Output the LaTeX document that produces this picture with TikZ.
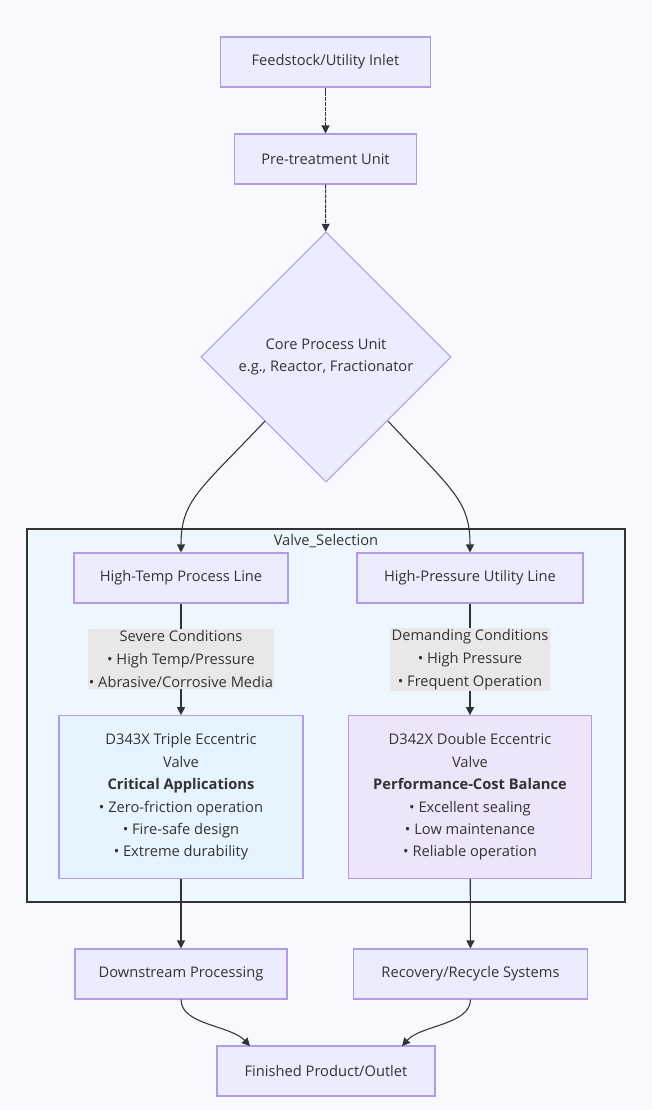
\documentclass[tikz,border=0pt]{standalone}
\usepackage{fontspec}
\setmainfont{Open Sans}
\usetikzlibrary{shapes.geometric,arrows.meta}
\definecolor{bg}{HTML}{F8F9FD}
\definecolor{nfill}{HTML}{ECECFF}
\definecolor{nbord}{HTML}{9370DB}
\definecolor{cfill}{HTML}{EEF7FF}
\definecolor{lfill}{HTML}{E8E8E8}
\definecolor{tx}{HTML}{333333}
\begin{document}
\begin{tikzpicture}[x=0.75pt,y=-0.75pt,
  box/.style={draw=nbord!70,fill=nfill,line width=0.8pt,text=tx,font=\fontsize{11}{16.8}\selectfont,inner sep=0pt,align=center},
  lab/.style={fill=lfill,text=tx,font=\fontsize{11}{17.2}\selectfont,align=center,inner sep=1pt},
  arr/.style={draw=tx,line width=0.8pt,-{Triangle[length=6pt,width=6pt]}}]
\useasboundingbox[fill=bg] (0,0) rectangle (652,1110);
\draw[fill=cfill,draw=tx,line width=1.2pt] (27,529) rectangle (625,902);
\node[text=tx,font=\fontsize{11}{12}\selectfont] (cl) at (326,541) {Valve\_Selection};
\node[box,minimum width=157pt,minimum height=37.5pt] (a) at (325.5,62) {Feedstock/Utility Inlet};
\node[box,minimum width=137pt,minimum height=37.5pt] (b) at (325.5,159) {Pre-treatment Unit};
\node[box,diamond,minimum width=187.5pt,minimum height=187.5pt,aspect=1] (c) at (326,357) {Core Process Unit\\e.g., Reactor, Fractionator};
\node[box,minimum width=160.5pt,minimum height=37.5pt] (d) at (181,578) {High-Temp Process Line};
\node[box,minimum width=169.5pt,minimum height=37.5pt] (e) at (470,578) {High-Pressure Utility Line};
\node[box,fill={rgb,255:red,230;green,244;blue,255},minimum width=183pt,minimum height=122pt] (f) at (181,797) {D343X Triple Eccentric\\Valve\\\textbf{Critical Applications}\\• Zero-friction operation\\• Fire-safe design\\• Extreme durability};
\node[box,fill={rgb,255:red,239;green,229;blue,251},minimum width=182pt,minimum height=122pt] (g) at (470,797) {D342X Double Eccentric\\Valve\\\textbf{Performance-Cost Balance}\\• Excellent sealing\\• Low maintenance\\• Reliable operation};
\node[box,minimum width=159pt,minimum height=37.5pt] (h) at (181,974) {Downstream Processing};
\node[box,minimum width=175pt,minimum height=37.5pt] (i) at (470.5,974) {Recovery/Recycle Systems};
\node[box,minimum width=163.5pt,minimum height=37.5pt] (j) at (326,1071) {Finished Product/Outlet};
\draw[arr,dash pattern=on 3pt off 0.7pt] (a) -- (b);
\draw[arr,dash pattern=on 3pt off 0.7pt] (b) -- (c);
\draw[arr] (265,421) .. controls (200,490) and (181,500) .. (d.north);
\draw[arr] (388,421) .. controls (452,490) and (470,500) .. (e.north);
\draw[arr] (d) -- (f) node[lab,midway] (l1) {Severe Conditions\\• High Temp/Pressure\\• Abrasive/Corrosive Media};
\draw[arr] (e) -- (g) node[lab,midway] (l2) {Demanding Conditions\\• High Pressure\\• Frequent Operation};
\draw[arr] (f) -- (h);
\draw[arr] (g) -- (i);
\draw[arr] (h.south) .. controls (181,1025) and (230,1025) .. (250,1046);
\draw[arr] (i.south) .. controls (470,1025) and (421,1025) .. (402,1046);
\end{tikzpicture}
\end{document}
